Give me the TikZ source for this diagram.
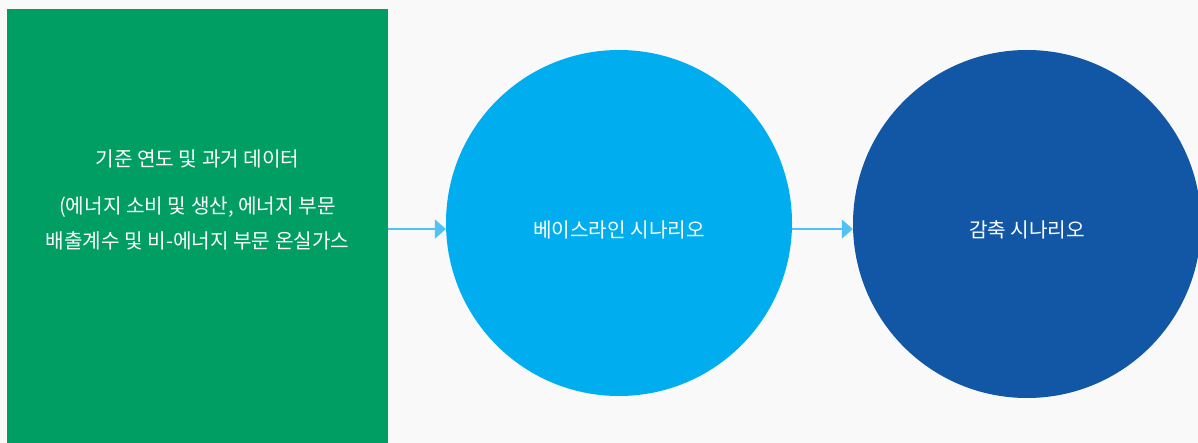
\documentclass[tikz,border=0pt]{standalone}
\usepackage{fontspec}
\setmainfont{Noto Sans CJK KR}
\usepackage{xcolor}
\usepackage{tikz}
\usetikzlibrary{arrows.meta,positioning,calc}
\definecolor{bggray}{RGB}{249,249,249}
\definecolor{datagreen}{RGB}{0,158,99}
\definecolor{baseblue}{RGB}{0,174,239}
\definecolor{cutblue}{RGB}{18,87,165}
\definecolor{flowblue}{RGB}{79,195,247}

\begin{document}
\begin{tikzpicture}[x=1pt,y=-1pt,
    stage/.style={circle,fill=#1,draw=none,inner sep=0pt},
    stagetext/.style={text=white,font=\fontsize{20.2}{35}\selectfont,align=center},
    flow/.style={draw=flowblue,line width=1.4pt,-{Triangle[length=11pt,width=19pt]}}]
        % ---- fon ----
        \useasboundingbox (0,0) rectangle (1198,443);
        \fill[bggray] (0,0) rectangle (1198,443);
        \clip (0,0) rectangle (1198,443);
        % ---- bosqichlar ----
        \node[fill=datagreen,minimum width=381pt,minimum height=440pt,inner sep=0pt]
            (data) at (197.5,229) {};
        \node[stage=baseblue,minimum size=346pt] (base) at (619,223) {};
        \node[stage=cutblue,minimum size=348pt] (cut) at (1027,224) {};
        % ---- matnlar ----
        \node[stagetext] (datatext) at (197.5,200)
            {기준 연도 및 과거 데이터\\[12pt]
             (에너지 소비 및 생산, 에너지 부문\\
             배출계수 및 비-에너지 부문 온실가스};
        \node[stagetext] (basetext) at ($(base)+(0,7)$) {베이스라인 시나리오};
        \node[stagetext] (cuttext) at ($(cut)+(0,6)$) {감축 시나리오};
        % ---- o'qlar ----
        \draw[flow] (data.east |- base.182) -- (base.182);
        \draw[flow] (base.358) -- (base.358 -| cut.west);
      \end{tikzpicture}
\end{document}
